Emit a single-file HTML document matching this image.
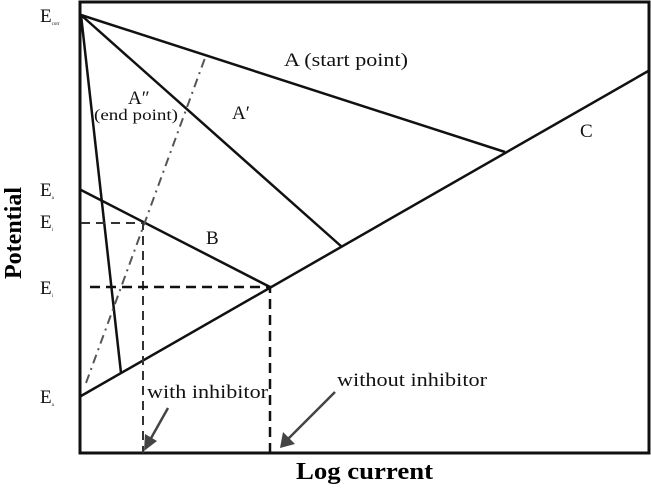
<!DOCTYPE html>
<html><head><style>body{margin:0;background:#fff}svg{display:block}</style></head><body>
<svg width="651" height="488" xmlns="http://www.w3.org/2000/svg" font-family="Liberation Serif, serif">
<rect x="80" y="2" width="569" height="451" fill="none" stroke="#111" stroke-width="3"/>
<g stroke="#111" stroke-width="2.5" fill="none">
<line x1="81" y1="15" x2="505" y2="152"/>
<line x1="81" y1="15" x2="342" y2="247"/>
<line x1="81" y1="15" x2="121" y2="373"/>
<line x1="81" y1="396" x2="650" y2="70"/>
<line x1="81" y1="190" x2="270" y2="287"/>
</g>
<line x1="86" y1="383" x2="205" y2="58" stroke="#555" stroke-width="2" stroke-dasharray="9,5,2,5"/>
<g stroke="#333" stroke-width="2" fill="none" stroke-dasharray="9,6">
<polyline points="81,223 143,223 143,453"/>
</g>
<g stroke="#111" stroke-width="2.5" fill="none" stroke-dasharray="10,6">
<polyline points="90,287 270,287 270,453"/>
</g>
<g stroke="#444" stroke-width="2.5" fill="#444">
<line x1="168" y1="408" x2="150" y2="440"/>
<polygon points="144,451 145,434 157,441" stroke="none"/>
<line x1="335" y1="392" x2="287" y2="440"/>
<polygon points="280,448 283,432 295,444" stroke="none"/>
</g>
<g font-size="19" fill="#111" lengthAdjust="spacingAndGlyphs">
<text x="284" y="66" textLength="124" lengthAdjust="spacingAndGlyphs">A (start point)</text>
<text x="232" y="119">A′</text>
<text x="128" y="104">A″</text>
<text x="94" y="120" font-size="16" textLength="84" lengthAdjust="spacingAndGlyphs">(end point)</text>
<text x="206" y="244">B</text>
<text x="580" y="137">C</text>
<text x="147" y="398" textLength="121" lengthAdjust="spacingAndGlyphs">with inhibitor</text>
<text x="337" y="386" textLength="150" lengthAdjust="spacingAndGlyphs">without inhibitor</text>
<text x="40" y="22">E<tspan font-size="5" dy="3">corr</tspan></text>
<text x="40" y="196">E<tspan font-size="5" dy="3">a</tspan></text>
<text x="40" y="228">E<tspan font-size="5" dy="3">i</tspan></text>
<text x="40" y="294">E<tspan font-size="5" dy="3">i</tspan></text>
<text x="40" y="403">E<tspan font-size="5" dy="3">a</tspan></text>
</g>
<text x="296" y="479" font-size="24" font-weight="bold" textLength="137" lengthAdjust="spacingAndGlyphs">Log current</text>
<text transform="translate(21,233) rotate(-90)" text-anchor="middle" font-size="24" font-weight="bold">Potential</text>
</svg>
</body></html>
